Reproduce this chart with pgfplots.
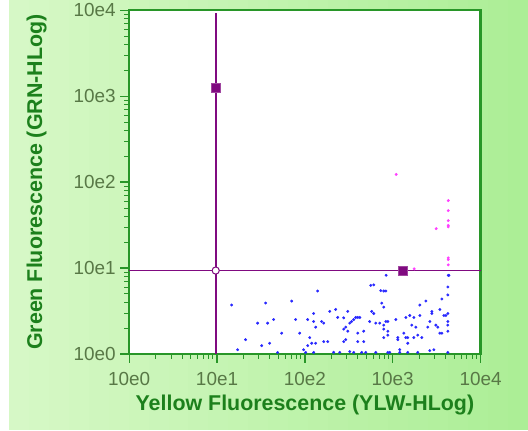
\documentclass[border=0pt]{standalone}
\usepackage{pgfplots}
\pgfplotsset{compat=1.18}
\usepackage{pgfplotstable}
\usepackage{fontspec}
\setmainfont{Liberation Sans}

\definecolor{bgleft}{RGB}{214,248,198}
\definecolor{bgright}{RGB}{172,238,150}
\definecolor{axgreen}{RGB}{40,150,40}
\definecolor{lblgreen}{RGB}{28,128,28}
\definecolor{tickgrey}{RGB}{88,120,70}
\definecolor{gate}{RGB}{128,10,128}
\definecolor{dotblue}{RGB}{40,40,255}
\definecolor{dotpink}{RGB}{255,64,255}

% values are decades: log10 of the fluorescence reading
\pgfplotstableread{
lx ly
1.166 0.570
1.234 0.050
1.325 0.167
1.462 0.359
1.508 0.097
1.553 0.593
1.576 0.359
1.599 0.125
1.644 0.401
1.690 0.018
1.736 0.242
1.850 0.616
1.895 0.401
1.941 0.242
1.986 0.050
2.009 0.018
2.032 0.401
2.032 0.097
2.055 0.191
2.078 0.125
2.100 0.471
2.100 0.378
2.100 0.018
2.123 0.312
2.123 0.125
2.146 0.733
2.191 0.378
2.214 0.359
2.214 0.144
2.260 0.144
2.283 0.495
2.328 0.020
2.351 0.518
2.374 0.425
2.397 0.018
2.442 0.421
2.442 0.289
2.442 0.144
2.465 0.312
2.465 0.167
2.488 0.495
2.488 0.265
2.511 0.359
2.511 0.027
2.533 0.378
2.556 0.401
2.556 0.018
2.579 0.425
2.602 0.242
2.602 0.144
2.602 0.425
2.625 0.425
2.647 0.018
2.670 0.265
2.670 0.144
2.693 0.018
2.738 0.378
2.750 0.799
2.761 0.495
2.784 0.471
2.784 0.804
2.807 0.359
2.807 0.018
2.852 0.359
2.864 0.737
2.875 0.593
2.898 0.733
2.921 0.733
2.925 0.916
2.898 0.546
2.898 0.336
2.898 0.289
2.898 0.191
2.921 0.378
2.944 0.378
2.944 0.265
2.944 0.219
2.944 0.018
2.966 0.018
3.035 0.401
3.058 0.191
3.058 0.167
3.080 0.050
3.080 0.018
3.126 0.242
3.149 0.425
3.149 0.191
3.171 0.191
3.171 0.125
3.171 0.018
3.194 0.448
3.217 0.336
3.240 0.425
3.240 0.191
3.263 0.312
3.285 0.219
3.285 0.018
3.308 0.570
3.308 0.448
3.331 0.191
3.377 0.616
3.399 0.312
3.422 0.378
3.422 0.039
3.445 0.495
3.445 0.471
3.468 0.050
3.491 0.336
3.513 0.312
3.536 0.518
3.536 0.242
3.559 0.242
3.559 0.640
3.582 0.448
3.605 0.448
3.627 0.471
3.627 0.780
3.627 0.687
3.627 0.378
3.627 0.336
3.627 0.265
3.627 0.018
3.632 0.916
3.640 0.916
}\bluedots

\pgfplotstableread{
lx ly
3.039 2.090
3.632 1.786
3.632 1.669
3.632 1.552
3.632 1.497
3.632 1.480
3.495 1.458
3.632 1.119
3.632 1.099
3.632 1.037
3.244 0.991
}\pinkdots

\begin{document}
\begin{tikzpicture}
% panel background: plain strips instead of a shading
\fill[white] (-129.3bp,-76.7bp) rectangle (398.7bp,354.3bp);
\foreach \i in {0,...,25}{
    \pgfmathsetmacro\p{100-4*\i}
    \fill[bgleft!\p!bgright] ({(-120.3+19.96*\i)*1bp},-75.7bp) rectangle ({(-120.3+19.96*(\i+1)+0.5)*1bp},354.3bp);
}
\fill[white] (0,0) rectangle (351.7bp,344bp);
\begin{axis}[
    scale only axis,
    width=351.7bp, height=344bp,
    xmin=0, xmax=4, ymin=0, ymax=4,
    clip=false,
    axis line style={draw=axgreen, line width=2.2bp},
    xtick={0,1,2,3,4}, ytick={0,1,2,3,4},
    xticklabels={10e0,10e1,10e2,10e3,10e4},
    yticklabels={10e0,10e1,10e2,10e3,10e4},
    minor xtick={0.301,0.477,0.602,0.699,0.778,0.845,0.903,0.954,
        1.301,1.477,1.602,1.699,1.778,1.845,1.903,1.954,
        2.301,2.477,2.602,2.699,2.778,2.845,2.903,2.954,
        3.301,3.477,3.602,3.699,3.778,3.845,3.903,3.954},
    minor ytick={0.301,0.477,0.602,0.699,0.778,0.845,0.903,0.954,
        1.301,1.477,1.602,1.699,1.778,1.845,1.903,1.954,
        2.301,2.477,2.602,2.699,2.778,2.845,2.903,2.954,
        3.301,3.477,3.602,3.699,3.778,3.845,3.903,3.954},
    xtick pos=bottom, ytick pos=left,
    tick align=outside,
    major tick length=9bp, minor tick length=5bp,
    tick style={axgreen, line width=1.3bp},
    minor tick style={line width=1bp},
    tick label style={font=\fontsize{19}{21}\selectfont, text=tickgrey},
    xticklabel style={yshift=-6bp},
    yticklabel style={xshift=-1bp},
    xlabel={Yellow Fluorescence (YLW-HLog)},
    ylabel={Green Fluorescence (GRN-HLog)},
    every axis x label/.style={at={(axis description cs:0.5,0)}, anchor=center,
        yshift=-50.7bp, font=\fontsize{21.5}{24}\selectfont\bfseries, text=lblgreen},
    every axis y label/.style={at={(axis description cs:0,0.5)}, anchor=center,
        xshift=-92.6bp, rotate=90, font=\fontsize{21.5}{24}\selectfont\bfseries, text=lblgreen},
]
\addplot[only marks, mark=*, mark size=1.25bp, mark options={draw=dotblue, fill=dotblue}] table[x=lx, y=ly] {\bluedots};
\addplot[only marks, mark=*, mark size=1.25bp, mark options={draw=dotpink, fill=dotpink}] table[x=lx, y=ly] {\pinkdots};

% quadrant gate
\addplot[gate, line width=1.8bp] coordinates {(0,0.971) (4,0.971)};
\addplot[gate, line width=1.8bp] coordinates {(0.985,0) (0.985,3.97)};
\addplot[only marks, mark=square*, mark size=4.5bp, mark options={draw=gate!75!white, fill=gate}] coordinates {(0.985,3.099) (3.108,0.971)};
\addplot[only marks, mark=*, mark size=3.6bp, mark options={draw=gate, fill=white, line width=1bp}] coordinates {(0.985,0.971)};
\end{axis}
\end{tikzpicture}
\end{document}
